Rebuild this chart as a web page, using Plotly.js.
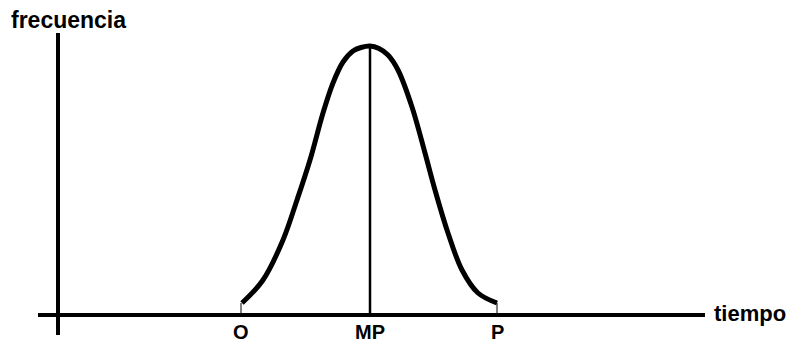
<!DOCTYPE html>
<html>
<head>
<meta charset="utf-8">
<script src="https://cdn.plot.ly/plotly-3.0.1.min.js"></script>
<style>
    html, body { margin: 0; padding: 0; background: #ffffff; }
    #chart { width: 796px; height: 345px; }
</style>
</head>
<body>
<div id="chart"></div>
<script>
// Bell curve (tiempo, frecuencia)
var tiempo = [184, 205, 225, 239, 252, 265, 275, 285, 295, 303, 312, 321, 330, 340, 354, 367, 377, 390, 404, 420, 439];
var frecuencia = [12, 35, 75, 115, 155, 202, 232, 253, 264, 267.5, 269, 266.5, 260, 245, 208, 162, 125, 82, 45, 22, 12];

// Marked points on the time axis
var tickNames = ['O', 'MP', 'P'];
var tickTimes = [183, 312, 439];
var tickHeights = [12, 269, 12];

var font = 'Liberation Sans, Arial, sans-serif';

document.addEventListener('DOMContentLoaded', (event) => {
    var data = [];

    // Thin drop lines from O, MP and P up to the curve
    for (let i = 0; i < tickTimes.length; i++) {
        data.push({
            x: [tickTimes[i], tickTimes[i]],
            y: [0, tickHeights[i]],
            mode: 'lines',
            type: 'scatter',
            line: {color: '#000000', width: i === 1 ? 2.5 : 1},
            hoverinfo: 'skip'
        });
    }

    data.push({
        x: tiempo,
        y: frecuencia,
        mode: 'lines',
        type: 'scatter',
        line: {color: '#000000', width: 5, shape: 'spline', smoothing: 1}
    });

    // Tick labels under the axis
    var annotations = [];
    for (let i = 0; i < tickNames.length; i++) {
        annotations.push({
            x: tickTimes[i], y: -17, xref: 'x', yref: 'y',
            text: tickNames[i], showarrow: false,
            xanchor: 'center', yanchor: 'middle',
            font: {family: font, size: 20, color: '#000000', weight: 'bold'}
        });
    }
    // Axis names sit outside the plot area, so they use paper coordinates
    annotations.push({
        x: -0.043, y: 1.043, xref: 'paper', yref: 'paper',
        text: 'frecuencia', showarrow: false,
        xanchor: 'left', yanchor: 'middle',
        font: {family: font, size: 23, color: '#000000', weight: 'bold'}
    });
    annotations.push({
        x: 1.011, y: 0.07, xref: 'paper', yref: 'paper',
        text: 'tiempo', showarrow: false,
        xanchor: 'left', yanchor: 'middle',
        font: {family: font, size: 22, color: '#000000', weight: 'bold'}
    });

    var layout = {
        width: 796,
        height: 345,
        margin: {l: 38, r: 91, t: 33, b: 10},
        paper_bgcolor: '#ffffff',
        plot_bgcolor: '#ffffff',
        showlegend: false,
        xaxis: {
            range: [-20, 647],
            showgrid: false,
            showticklabels: false,
            ticks: '',
            zeroline: true,
            zerolinecolor: '#000000',
            zerolinewidth: 4,
            showline: false,
            fixedrange: true
        },
        yaxis: {
            range: [-20, 282],
            showgrid: false,
            showticklabels: false,
            ticks: '',
            zeroline: true,
            zerolinecolor: '#000000',
            zerolinewidth: 4,
            showline: false,
            fixedrange: true
        },
        annotations: annotations
    };

    Plotly.newPlot('chart', data, layout, {displayModeBar: false, staticPlot: true});
});
</script>
</body>
</html>
